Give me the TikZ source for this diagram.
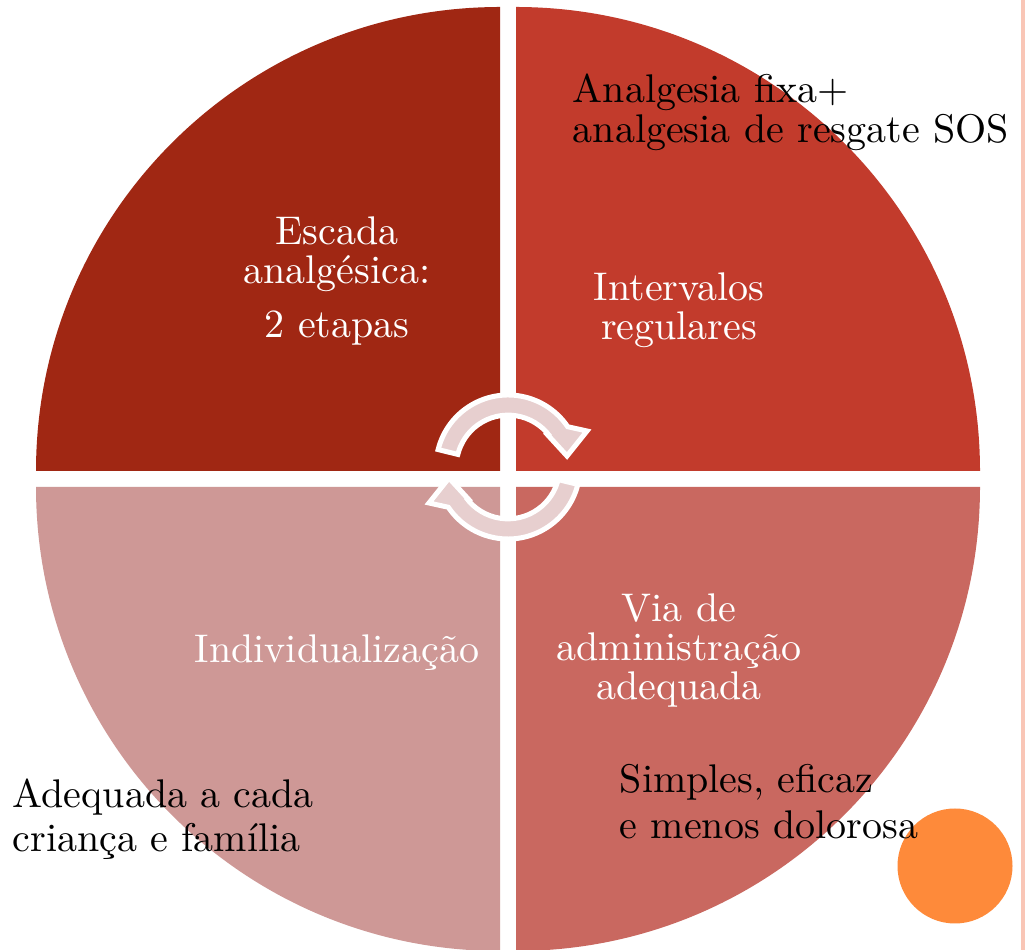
\documentclass[tikz,border=0pt]{standalone}
\usepackage{fontspec}
\usetikzlibrary{calc}
\definecolor{qtl}{RGB}{160,39,19}
\definecolor{qtr}{RGB}{194,59,44}
\definecolor{qbl}{RGB}{206,152,150}
\definecolor{qbr}{RGB}{201,104,96}
\definecolor{arrowfill}{RGB}{231,207,207}
\definecolor{dotorange}{RGB}{254,138,58}
\definecolor{strip}{RGB}{249,198,182}
\tikzset{
  quad/.style={draw=none},
  cyclearrow/.style={fill=arrowfill, draw=white, line width=5pt, line join=miter},
  wtext/.style={text=white, inner sep=0pt, scale=4, font=\fontsize{10}{9.75}\selectfont},
  btext/.style={text=black, inner sep=0pt, scale=4, font=\fontsize{10}{10}\selectfont},
}
\begin{document}
\begin{tikzpicture}[x=1pt,y=1pt]
\useasboundingbox (0,0) rectangle (1026,950);
\fill[white] (0,0) rectangle (1026,950);
% right strip
\fill[strip] (1021,0) rectangle (1025,950);
% quadrants
\fill[qtl,quad] (500,479) -- ++(-464,0) arc[start angle=180,end angle=90,radius=464] -- cycle;
\fill[qtr,quad] (516,479) -- ++(464,0) arc[start angle=0,end angle=90,radius=464] -- cycle;
\fill[qbl,quad] (500,463) -- ++(-464,0) arc[start angle=180,end angle=270,radius=464] -- cycle;
\fill[qbr,quad] (516,463) -- ++(464,0) arc[start angle=0,end angle=-90,radius=464] -- cycle;
% cycle arrows
\coordinate (ac) at (508,483);
\path[cyclearrow] ($(ac)+(166:72)$) arc[start angle=166,end angle=34,radius=72]
  -- ($(ac)+(79,36)$) -- ($(ac)+(59,11)$) -- ($(ac)+(37,35)$)
  -- ($(ac)+(42,30.5)$) arc[start angle=36,end angle=166,radius=51.8] -- cycle;
\begin{scope}[rotate around={180:(508,471)}]
\path[cyclearrow] ($(ac)+(166:72)$) arc[start angle=166,end angle=34,radius=72]
  -- ($(ac)+(79,36)$) -- ($(ac)+(59,11)$) -- ($(ac)+(37,35)$)
  -- ($(ac)+(42,30.5)$) arc[start angle=36,end angle=166,radius=51.8] -- cycle;
\end{scope}
% orange dot
\fill[dotorange] (955,84) circle[radius=57.5];
% texts
\node[wtext, align=center, anchor=base] (escada) at (337,612) {Escada\\analgésica:\\[3.75pt]2 etapas};
\node[wtext, align=center, anchor=base] (interv) at (679,610) {Intervalos\\regulares};
\node[wtext, align=center, anchor=base] (via) at (679,250) {Via de\\administração\\adequada};
\node[wtext, anchor=base] (indiv) at (337,287) {Individualização};
\node[btext, align=left, anchor=base west] (fixa) at (572,807) {Analgesia fixa+\\analgesia de resgate SOS};
\node[btext, align=left, anchor=base west] (simples) at (619,111) {Simples, eficaz\\[1.5pt]e menos dolorosa};
\node[btext, align=left, anchor=base west] (adeq) at (12,98) {Adequada a cada\\[1pt]criança e família};
\end{tikzpicture}
\end{document}
